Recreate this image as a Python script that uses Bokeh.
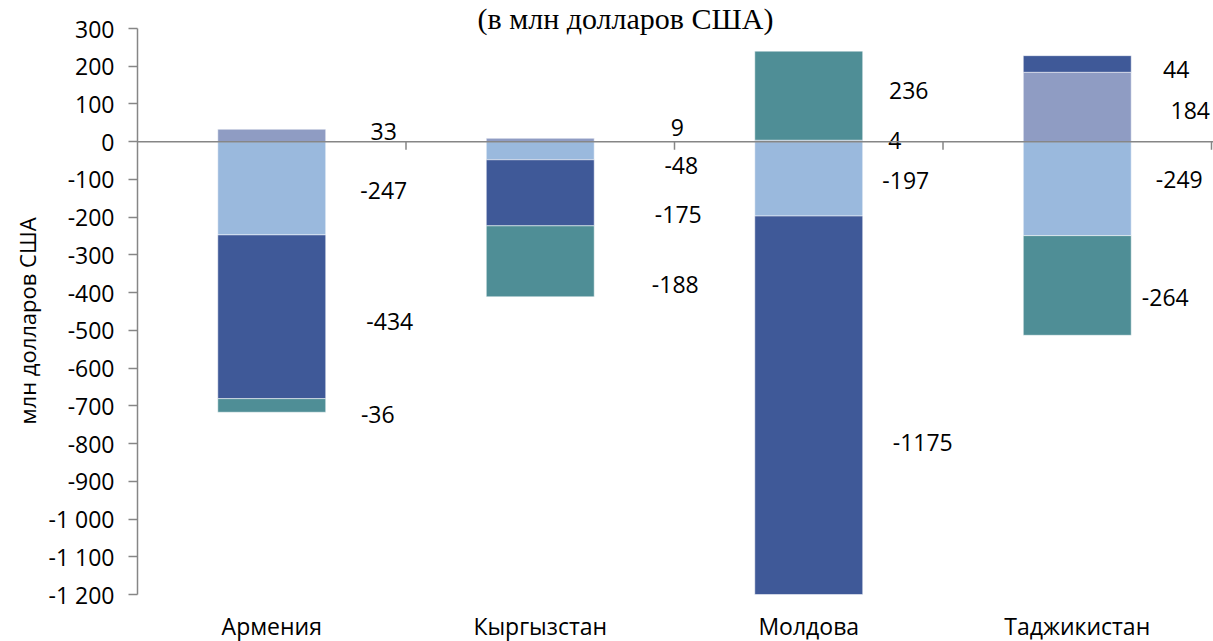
from bokeh.plotting import figure
from bokeh.models import ColumnDataSource, FixedTicker, Span, Range1d
from bokeh.embed import file_html
from bokeh.resources import INLINE
from bokeh.core.properties import value

# ---------------- data ----------------
countries = ["Армения", "Кыргызстан", "Молдова", "Таджикистан"]
series_1 = [33, 9, 4, 184]            # light purple
series_2 = [-247, -48, -197, -249]    # light blue
series_3 = [-434, -175, -1175, 44]    # dark blue
series_4 = [-36, -188, 236, -264]     # teal
y_tick_values = list(range(-1200, 301, 100))
title_text = "(в млн долларов США)"
y_axis_title = "млн долларов США"

# ---------------- style / layout ----------------
colors = ["#8F9CC3", "#9AB9DD", "#3F5998", "#4F8E96"]
FONT = "Open Sans"
W, H = 1213, 641
FL = 137                      # left border for the y axis (px)
PLOT_TOP, PLOT_BOTTOM, PLOT_RIGHT = 28, 594, 1211   # value-area edges (px)
Y0, Y1 = -1200, 300
upp = (Y1 - Y0) / (PLOT_BOTTOM - PLOT_TOP)          # data units per px
y_start = Y0 - (H - PLOT_BOTTOM) * upp
y_end = Y1 + PLOT_TOP * upp
n = len(countries)
x_end = n * (W - FL) / (PLOT_RIGHT - FL)

def y_at(px):
    """data y for a canvas pixel row"""
    return Y1 - (px - PLOT_TOP) * upp

def x_at(px):
    return (px - FL) / (PLOT_RIGHT - FL) * n

# label offsets in px (per series, per country): manual label placement
label_dx = [[112, 137, 86, 113],
            [112, 141, 97, 102],
            [118, 138, 114, 99],
            [106, 135, 100, 88]]
label_dy = [[-4, -13, 0, 4],
            [2, 15, 2, -9],
            [5, 22, 5, 6],
            [9, 23, -5, 12]]

p = figure(width=W, height=H, output_backend="svg", toolbar_location=None,
           x_range=Range1d(0, x_end), y_range=Range1d(y_start, y_end),
           min_border_left=FL, min_border_right=0, min_border_top=0,
           min_border_bottom=0, background_fill_color="white",
           border_fill_color="white", outline_line_color=None)
p.xgrid.visible = False
p.ygrid.visible = False
p.xaxis.visible = False

# stacked bars with separate positive / negative stacks
all_series = [series_1, series_2, series_3, series_4]
pos = [0.0] * n
neg = [0.0] * n
xs = [i + 0.5 for i in range(n)]
for si, ser in enumerate(all_series):
    bottoms, tops = [], []
    for i, v in enumerate(ser):
        if v >= 0:
            b = pos[i]; t = b + v; pos[i] = t
        else:
            b = neg[i]; t = b + v; neg[i] = t
        bottoms.append(b); tops.append(t)
    src = ColumnDataSource(dict(
        x=xs,
        top=[max(t, Y0) for t in tops],           # bars are cut at the axis minimum
        bottom=[max(b, Y0) for b in bottoms],
        ymid=[(a + b) / 2 for a, b in zip(tops, bottoms)],
        txt=[str(v) for v in ser],
        dx=label_dx[si], dy=label_dy[si]))
    p.vbar(x="x", top="top", bottom="bottom", width=0.402, source=src,
           fill_color=colors[si], line_color="white", line_alpha=0.5, line_width=1)
    p.text(x="x", y="ymid", text="txt", x_offset="dx", y_offset="dy", source=src,
           text_align="center", text_baseline="middle",
           text_font=value(FONT), text_font_size="23px", text_color="black")

# zero line with category-boundary ticks
axis_gray = "#868686"
p.add_layout(Span(location=0, dimension="width", line_color=axis_gray, line_width=1.5))
bx = list(range(1, n + 1))
p.segment(x0=bx, x1=bx, y0=[0] * n, y1=[-8 * upp] * n,
          line_color=axis_gray, line_width=1.5)

# y axis
ya = p.yaxis[0]
ya.bounds = (Y0, Y1)
ya.ticker = FixedTicker(ticks=y_tick_values)
ya.major_label_overrides = {v: f"{v:,}".replace(",", " ") for v in y_tick_values}
ya.axis_line_color = axis_gray
ya.axis_line_width = 1.5
ya.major_tick_line_color = axis_gray
ya.major_tick_line_width = 1.5
ya.major_tick_out = 9
ya.major_tick_in = 0
ya.minor_tick_line_color = None
ya.major_label_standoff = 14
ya.major_label_text_font = FONT
ya.major_label_text_font_size = "23px"
ya.major_label_text_color = "black"
ya.axis_label = y_axis_title
ya.axis_label_text_font = FONT
ya.axis_label_text_font_size = "22px"
ya.axis_label_text_font_style = "normal"
ya.axis_label_text_color = "black"
ya.axis_label_standoff = 4

# category names below the value area
p.text(x=xs, y=[y_at(625)] * n, text=countries, text_align="center",
       text_baseline="middle", text_font=value(FONT), text_font_size="23px",
       text_color="black")

# title
p.text(x=[x_at(625)], y=[y_at(18)], text=[title_text], text_align="center",
       text_baseline="middle", text_font=value("Liberation Serif"),
       text_font_size="30px", text_color="black")

open("out.html", "w").write(file_html(p, INLINE))
